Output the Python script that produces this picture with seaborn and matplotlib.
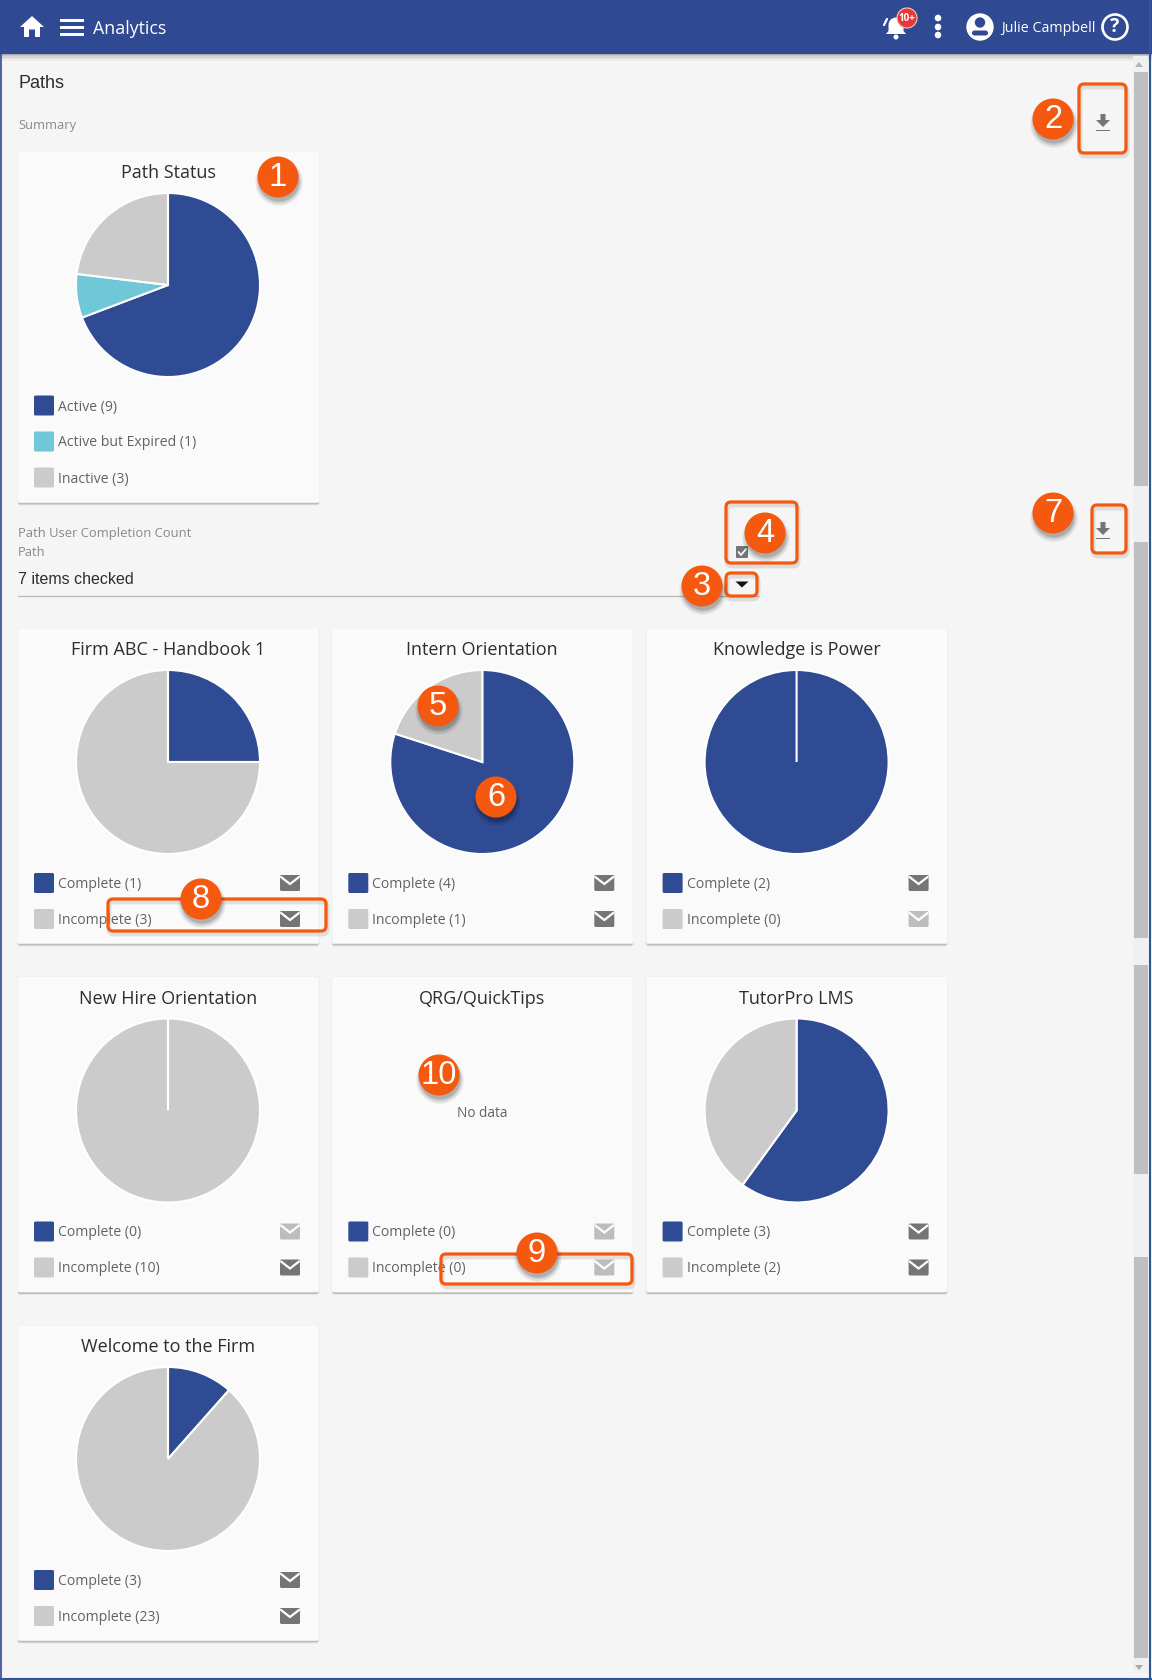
import matplotlib
matplotlib.use("Agg")
import matplotlib.pyplot as plt
import seaborn as sns
from matplotlib.patches import Circle, FancyBboxPatch, Polygon, Rectangle, Wedge

W, H = 1152, 1680

# Chart data
status_labels = ["Active", "Active but Expired", "Inactive"]
status_values = [9, 1, 3]
path_titles = ["Firm ABC - Handbook 1", "Intern Orientation", "Knowledge is Power",
               "New Hire Orientation", "QRG/QuickTips", "TutorPro LMS", "Welcome to the Firm"]
complete_counts = [1, 4, 2, 0, 0, 3, 3]
incomplete_counts = [3, 1, 0, 10, 0, 2, 23]

sns.set_theme(style="white")
plt.rcParams["font.family"] = ["Open Sans", "DejaVu Sans"]

BLUE, CYAN, GRAY = sns.color_palette(["#2F4B94", "#6FC7D8", "#CBCBCB"])
ORANGE = "#F4590F"
ICON = "#757575"
LABEL = "#5F6368"
DARK = "#2E2E2E"

fig = plt.figure(figsize=(W / 100, H / 100), dpi=100, facecolor="#F5F5F5")


def pixel_axes(zorder):
    ax = fig.add_axes([0, 0, 1, 1], zorder=zorder)
    ax.set_xlim(0, W)
    ax.set_ylim(H, 0)
    ax.axis("off")
    ax.patch.set_alpha(0)
    return ax


bg = pixel_axes(0)
fg = pixel_axes(5)


def rounded(ax, x0, y0, x1, y1, r=3, **kw):
    p = FancyBboxPatch((x0, y0), x1 - x0, y1 - y0, boxstyle=f"round,pad=0,rounding_size={r}", **kw)
    ax.add_patch(p)
    return p


def text(ax, x, y, s, size=10.1, color=LABEL, ha="left", **kw):
    ax.text(x, y, s, fontsize=size, color=color, ha=ha, va="center", **kw)


def card(x0, y0, x1, y1):
    # soft shadow, then the card itself
    rounded(bg, x0 - 1, y0 + 1, x1 + 1, y1 + 2.5, r=3, fc="black", ec="none", alpha=0.05)
    rounded(bg, x0, y0 + 2, x1, y1 + 1.5, r=2, fc="#BDBDBD", ec="none")
    rounded(bg, x0 - 0.5, y0, x1 + 0.5, y1 - 0.5, r=2, fc="#FAFAFA", ec="#F1F1F1", lw=0.5)


def pie(cx, cy, values, colors, r=92):
    ax = fig.add_axes([(cx - r) / W, 1 - (cy + r) / H, 2 * r / W, 2 * r / H], zorder=2)
    wedges, _ = ax.pie(values, colors=colors, startangle=90, counterclock=False, radius=1,
                       wedgeprops={"edgecolor": "white", "linewidth": 1.5})
    # empty slices still show as a white radius, keep them above the full one
    for w, v in zip(wedges, values):
        if v == 0:
            w.set_zorder(5)
    ax.set_xlim(-1, 1)
    ax.set_ylim(-1, 1)


def swatch(x, cy, color):
    rounded(bg, x, cy - 10, x + 20, cy + 10, r=1.5, fc=color, ec="none")


def envelope(cx, cy, color):
    rounded(bg, cx - 10, cy - 8, cx + 10, cy + 8, r=1.5, fc=color, ec="none")
    bg.plot([cx - 9, cx, cx + 9], [cy - 6, cy + 1, cy - 6], color="white", lw=1.6, solid_joinstyle="miter")


def download(cx, top, color=ICON):
    bg.add_patch(Polygon([(cx - 2.5, top), (cx + 2.5, top), (cx + 2.5, top + 6), (cx + 7, top + 6),
                          (cx, top + 13), (cx - 7, top + 6), (cx - 2.5, top + 6)], fc=color, ec="none"))
    bg.add_patch(Rectangle((cx - 7, top + 15.5), 14, 1.6, fc=color, ec="none"))


def callout(n, cx, cy, r=20.5):
    for off, grow, alpha in [(5, 3.5, 0.04), (5, 2.5, 0.06), (4.5, 1.2, 0.09), (4, 0, 0.14)]:
        fg.add_patch(Circle((cx + 1, cy + off), r + grow, fc="black", ec="none", alpha=alpha))
    fg.add_patch(Circle((cx, cy), r, fc=ORANGE, ec="none"))
    fg.text(cx, cy + 0.5, str(n), fontsize=23.5, color="white", ha="center", va="center",
            family="Liberation Sans")


def box(x0, y0, x1, y1):
    rounded(fg, x0 + 1, y0 + 3, x1 + 1, y1 + 3, r=5, fc="none", ec="black", lw=3.5, alpha=0.10)
    rounded(fg, x0, y0, x1, y1, r=5, fc="none", ec=ORANGE, lw=2.3)


# Header bar
for i, alpha in enumerate([0.30, 0.20, 0.13, 0.08, 0.04]):
    bg.add_patch(Rectangle((0, 53 + i * 1.5), W, 1.5, fc="black", ec="none", alpha=alpha))
bg.add_patch(Rectangle((0, 0), W, 53.5, fc="#2F4A93", ec="none"))
bg.add_patch(Polygon([(20, 27), (32, 16), (44, 27), (40, 27), (40, 37), (35, 37), (35, 29.5), (29, 29.5),
                      (29, 37), (24, 37), (24, 27)], fc="white", ec="none"))
for y in (19, 26, 33):
    bg.add_patch(Rectangle((60, y), 24, 2.8, fc="white", ec="none"))
text(bg, 93, 28.5, "Analytics", size=12.8, color="white")

# bell with badge
bg.add_patch(Wedge((896, 25), 7.5, 180, 360, fc="white", ec="none"))
bg.add_patch(Polygon([(888.5, 25), (903.5, 25), (903.5, 31), (906, 34), (886, 34), (888.5, 31)], fc="white", ec="none"))
bg.add_patch(Circle((896, 37), 2.5, fc="white", ec="none"))
bg.plot([884, 887], [25, 19], color="white", lw=1.6)
bg.add_patch(Circle((907, 18), 10, fc="#E53935", ec="#F4C7C5", lw=0.8))
text(bg, 907, 18.5, "10+", size=7, color="white", ha="center", fontweight="bold")
for y in (18, 27, 35):
    bg.add_patch(Circle((938, y), 3.3, fc="white", ec="none"))
# user
bg.add_patch(Circle((980, 27), 13.7, fc="white", ec="none"))
bg.add_patch(Circle((980, 22.5), 5.2, fc="#2F4A93", ec="none"))
bg.add_patch(FancyBboxPatch((972, 30.5), 16, 5, boxstyle="round,pad=0,rounding_size=2.5", fc="#2F4A93", ec="none"))
text(bg, 1001, 28.5, "Julie Campbell", size=10.3, color="white")
bg.add_patch(Circle((1115, 27), 12.5, fc="none", ec="white", lw=1.9))
text(bg, 1115, 27.5, "?", size=14, color="white", ha="center", fontweight="bold")

# Page frame and scrollbar
bg.add_patch(Rectangle((1133, 56), 15, 1617, fc="#F0F0F0", ec="none"))
for y0, y1 in [(72, 486), (542, 938), (965, 1174), (1257, 1658)]:
    bg.add_patch(Rectangle((1134, y0), 13.5, y1 - y0, fc="#BFBFBF", ec="none"))
bg.add_patch(Polygon([(1135, 67), (1143, 67), (1139, 62)], fc="#B5B5B5", ec="none"))
bg.add_patch(Polygon([(1135, 1665), (1143, 1665), (1139, 1670)], fc="#A8A8A8", ec="none"))
fg.plot([0.7, 0.7], [0, H], color="#2F4A93", lw=1.2)
fg.plot([1150, 1150], [0, H], color="#2F5597", lw=1.5)
fg.plot([0, W], [1678.5, 1678.5], color="#2F5597", lw=1.5)

# Section labels
text(bg, 18, 84, "Paths", size=13, color=DARK, family="Liberation Sans")
text(bg, 18, 125, "Summary", size=9.3, color="#8A8A8A")
text(bg, 18, 533, "Path User Completion Count", size=9.4, color="#8A8A8A")
text(bg, 18, 553, "Path", size=9.3, color="#8A8A8A")
text(bg, 18, 579.5, "7 items checked", size=11.5, color=DARK, family="Liberation Sans")
bg.plot([18, 758], [595.5, 595.5], color="#BDBDBD", lw=1)
rounded(bg, 736, 546, 748, 558, r=1, fc=ICON, ec="none")
bg.plot([738.5, 741, 746], [552, 555, 549], color="white", lw=1.2)
bg.add_patch(Polygon([(735.5, 581.5), (748.5, 581.5), (742, 587.5)], fc="#111111", ec="none"))
download(1103, 114)
download(1103, 522)

# Path Status card
card(18, 151, 319, 503)
text(bg, 168, 173, "Path Status", size=13, color=DARK, ha="center")
pie(168, 285, status_values, [BLUE, CYAN, GRAY])
for i, (lab, val, col) in enumerate(zip(status_labels, status_values, [BLUE, CYAN, GRAY])):
    cy = 405.5 + i * 36
    swatch(34, cy, col)
    text(bg, 58, cy + 1.5, f"{lab} ({val})")

# Path cards, three to a row
for i, title in enumerate(path_titles):
    x0 = 18 + (i % 3) * 314.3
    y0 = 628 + (i // 3) * 348.5
    cx = x0 + 150
    card(x0, y0, x0 + 300.5, y0 + 316)
    text(bg, cx, y0 + 22, title, size=13, color=DARK, ha="center")
    vals = [complete_counts[i], incomplete_counts[i]]
    if sum(vals) > 0:
        pie(cx, y0 + 134, vals, [BLUE, GRAY])
    else:
        text(bg, cx, y0 + 137, "No data", ha="center", size=9.8)
    for j, (lab, val, col) in enumerate(zip(["Complete", "Incomplete"], vals, [BLUE, GRAY])):
        cy = y0 + 255 + j * 36
        swatch(x0 + 16, cy, col)
        text(bg, x0 + 40, cy + 1.5, f"{lab} ({val})")
        envelope(x0 + 272, cy, ICON if val > 0 else "#BDBDBD")

# Annotation boxes and numbered callouts
box(1079, 84, 1126, 153)
box(726, 502, 797, 563)
box(726, 573, 757, 596)
box(1092, 505, 1126, 553)
box(108, 899, 326, 931)
box(441, 1254, 632, 1284)
callouts = [(1, 278, 177), (2, 1053, 119), (3, 702, 586), (4, 765, 533), (5, 438, 706),
            (6, 496, 797), (7, 1053, 513), (8, 201, 899), (9, 537, 1253), (10, 439, 1075)]
for n, cx, cy in callouts:
    callout(n, cx, cy)

fig.savefig("out.png", dpi=100, facecolor=fig.get_facecolor())
